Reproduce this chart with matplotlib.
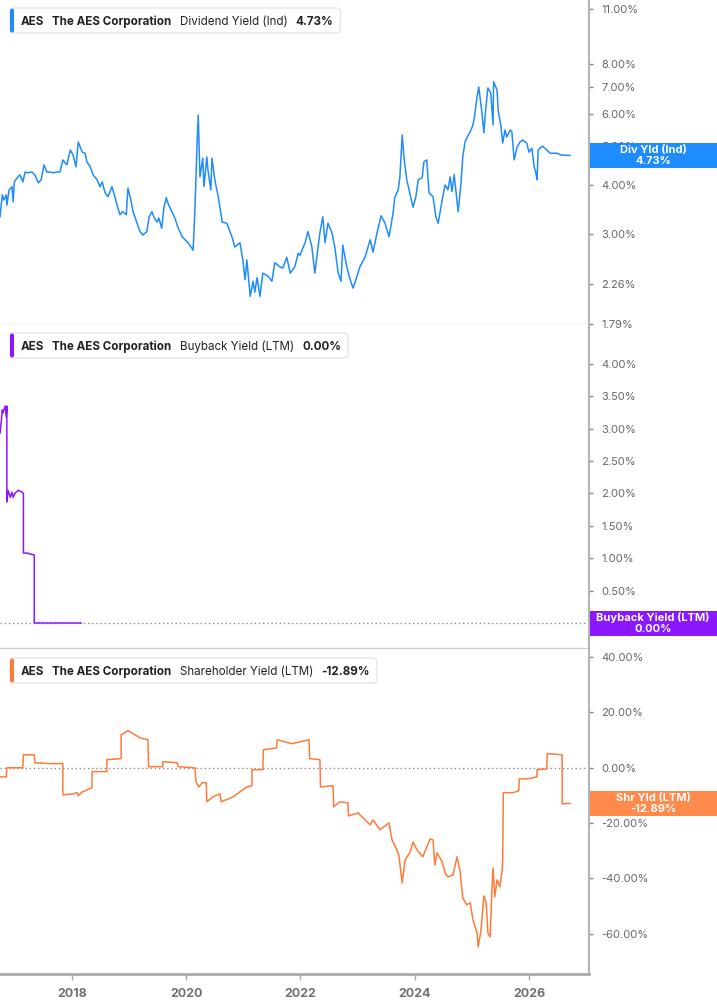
import numpy as np
import matplotlib
matplotlib.use("Agg")
import matplotlib.pyplot as plt
from matplotlib.patches import FancyBboxPatch, Rectangle
from matplotlib.transforms import Affine2D
from matplotlib.ticker import NullLocator

plt.rcParams['font.family'] = ['Inter', 'DejaVu Sans']

# Dividend Yield (Ind), % -- dates as decimal years
div_t = [2016.74, 2016.78, 2016.81, 2016.85, 2016.86, 2016.90, 2016.95, 2016.97, 2016.99, 2017.04,
         2017.09, 2017.14, 2017.18, 2017.23, 2017.30, 2017.35, 2017.41, 2017.46, 2017.51, 2017.56,
         2017.62, 2017.67, 2017.74, 2017.79, 2017.84, 2017.88, 2017.91, 2017.97, 2018.02, 2018.07,
         2018.11, 2018.18, 2018.23, 2018.26, 2018.32, 2018.37, 2018.44, 2018.49, 2018.53, 2018.58,
         2018.63, 2018.70, 2018.75, 2018.79, 2018.84, 2018.89, 2018.95, 2018.98, 2019.03, 2019.07,
         2019.14, 2019.19, 2019.24, 2019.31, 2019.35, 2019.40, 2019.44, 2019.49, 2019.52, 2019.57,
         2019.61, 2019.65, 2019.68, 2019.75, 2019.80, 2019.86, 2019.93, 2019.98, 2020.03, 2020.10,
         2020.12, 2020.15, 2020.19, 2020.21, 2020.24, 2020.29, 2020.31, 2020.36, 2020.38, 2020.43,
         2020.45, 2020.50, 2020.56, 2020.63, 2020.71, 2020.80, 2020.85, 2020.94, 2020.99, 2021.03,
         2021.06, 2021.12, 2021.17, 2021.20, 2021.24, 2021.29, 2021.34, 2021.43, 2021.50, 2021.55,
         2021.64, 2021.69, 2021.76, 2021.82, 2021.90, 2021.96, 2021.99, 2022.08, 2022.13, 2022.20,
         2022.25, 2022.34, 2022.39, 2022.43, 2022.48, 2022.55, 2022.60, 2022.66, 2022.71, 2022.74,
         2022.81, 2022.87, 2022.92, 2022.99, 2023.04, 2023.13, 2023.22, 2023.27, 2023.34, 2023.41,
         2023.48, 2023.55, 2023.62, 2023.65, 2023.71, 2023.74, 2023.78, 2023.81, 2023.86, 2023.90,
         2023.97, 2024.02, 2024.06, 2024.13, 2024.16, 2024.21, 2024.25, 2024.32, 2024.37, 2024.41,
         2024.48, 2024.53, 2024.58, 2024.62, 2024.65, 2024.69, 2024.74, 2024.76, 2024.81, 2024.84,
         2024.88, 2024.91, 2024.97, 2025.02, 2025.05, 2025.09, 2025.12, 2025.17, 2025.21, 2025.24,
         2025.28, 2025.33, 2025.37, 2025.38, 2025.44, 2025.46, 2025.51, 2025.54, 2025.58, 2025.61,
         2025.67, 2025.70, 2025.74, 2025.79, 2025.84, 2025.89, 2025.96, 2026.00, 2026.05, 2026.09,
         2026.12, 2026.14, 2026.16, 2026.19, 2026.24, 2026.31, 2026.37, 2026.49, 2026.57, 2026.72]
div_v = [3.32, 3.77, 3.66, 3.77, 3.55, 3.88, 3.95, 3.62, 4.06, 4.16,
         4.23, 4.06, 4.30, 4.28, 4.30, 4.23, 4.04, 4.11, 4.48, 4.30,
         4.30, 4.28, 4.30, 4.30, 4.61, 4.53, 4.48, 4.88, 4.74, 4.43,
         5.11, 4.82, 4.79, 4.56, 4.43, 4.23, 4.11, 3.95, 4.06, 3.81,
         3.73, 3.95, 3.73, 3.55, 3.36, 3.42, 3.36, 3.92, 3.66, 3.42,
         3.20, 3.05, 2.99, 3.05, 3.32, 3.42, 3.30, 3.22, 3.30, 3.11,
         3.51, 3.71, 3.59, 3.42, 3.30, 3.11, 2.96, 2.91, 2.86, 2.77,
         2.74, 3.39, 5.08, 5.97, 4.18, 4.66, 3.95, 4.69, 4.35, 3.88,
         4.66, 4.11, 3.73, 3.22, 3.20, 2.96, 2.79, 2.86, 2.59, 2.31,
         2.59, 2.10, 2.29, 2.15, 2.34, 2.10, 2.40, 2.36, 2.29, 2.55,
         2.49, 2.47, 2.63, 2.40, 2.49, 2.69, 2.66, 2.86, 3.05, 2.79,
         2.40, 3.03, 3.32, 2.86, 3.20, 3.03, 2.79, 2.40, 2.29, 2.82,
         2.49, 2.31, 2.20, 2.36, 2.49, 2.63, 2.91, 2.71, 3.03, 3.34,
         3.20, 2.96, 3.39, 3.71, 3.88, 4.18, 5.32, 4.69, 4.11, 3.88,
         3.51, 3.73, 4.11, 4.16, 4.56, 4.61, 3.81, 3.73, 3.32, 3.20,
         3.66, 3.99, 3.88, 4.18, 3.84, 4.23, 3.62, 3.42, 4.04, 4.69,
         5.11, 5.23, 5.42, 5.64, 5.97, 6.63, 7.02, 6.15, 5.39, 6.15,
         6.98, 6.78, 5.64, 7.23, 6.90, 6.15, 5.58, 5.08, 5.48, 5.26,
         5.48, 5.42, 4.61, 4.96, 5.11, 5.17, 5.08, 4.82, 4.93, 4.43,
         4.28, 4.11, 4.88, 4.93, 4.99, 4.88, 4.79, 4.79, 4.74, 4.73]

# Buyback Yield (LTM), %
bb_t = [2016.74, 2016.76, 2016.78, 2016.79, 2016.83, 2016.85, 2016.86, 2016.86, 2016.88, 2016.92,
        2016.95, 2016.97, 2017.00, 2017.06, 2017.13, 2017.15, 2017.15, 2017.21, 2017.30, 2017.34,
        2017.34, 2018.16]
bb_v = [2.93, 3.09, 3.29, 3.24, 3.35, 3.18, 3.35, 1.87, 2.05, 1.94,
        2.02, 1.94, 2.00, 2.05, 2.02, 2.00, 1.08, 1.08, 1.06, 1.05,
        0.00, 0.00]

# Shareholder Yield (LTM), %
shr_t = [2016.74, 2016.85, 2016.86, 2017.14, 2017.15, 2017.34, 2017.35, 2017.62, 2017.84, 2017.84,
         2018.02, 2018.09, 2018.11, 2018.18, 2018.35, 2018.35, 2018.61, 2018.61, 2018.86, 2018.86,
         2018.98, 2019.07, 2019.19, 2019.33, 2019.34, 2019.59, 2019.59, 2019.84, 2019.86, 2020.15,
         2020.17, 2020.22, 2020.28, 2020.35, 2020.36, 2020.47, 2020.59, 2020.61, 2020.82, 2021.06,
         2021.15, 2021.15, 2021.34, 2021.35, 2021.58, 2021.59, 2021.85, 2022.15, 2022.16, 2022.34,
         2022.35, 2022.57, 2022.58, 2022.69, 2022.83, 2022.84, 2023.01, 2023.04, 2023.22, 2023.27,
         2023.39, 2023.55, 2023.60, 2023.69, 2023.72, 2023.78, 2023.83, 2023.92, 2023.97, 2024.04,
         2024.14, 2024.21, 2024.27, 2024.32, 2024.35, 2024.39, 2024.48, 2024.53, 2024.58, 2024.67,
         2024.74, 2024.79, 2024.84, 2024.91, 2024.97, 2025.02, 2025.09, 2025.11, 2025.16, 2025.21,
         2025.25, 2025.28, 2025.32, 2025.35, 2025.37, 2025.40, 2025.44, 2025.49, 2025.53, 2025.54,
         2025.55, 2025.72, 2025.82, 2025.83, 2025.98, 2026.14, 2026.14, 2026.31, 2026.32, 2026.58,
         2026.58, 2026.72]
shr_v = [-3.3, -3.3, 0.0, 0.0, 4.7, 4.7, 1.8, 1.5, 1.5, -9.8,
         -9.4, -9.0, -10.1, -8.7, -7.2, -1.4, -1.4, 2.9, 3.3, 11.9,
         13.4, 12.3, 10.8, 10.1, 0.4, 0.4, 2.2, 1.8, 0.4, 0.0,
         -5.1, -6.9, -5.4, -5.4, -12.3, -10.5, -9.4, -12.3, -10.5, -6.9,
         -6.5, -0.7, -0.7, 6.5, 7.2, 10.1, 8.7, 10.1, 3.3, 2.9,
         -6.9, -6.5, -14.1, -12.3, -12.7, -17.4, -16.3, -17.0, -20.6, -18.8,
         -22.4, -19.9, -26.0, -29.7, -31.5, -41.6, -33.3, -30.4, -26.8, -29.7,
         -32.2, -28.6, -25.7, -26.0, -35.1, -30.7, -34.0, -38.0, -39.4, -38.7,
         -32.2, -36.9, -47.0, -49.5, -48.8, -55.0, -59.7, -64.7, -58.6, -46.3,
         -48.8, -59.7, -61.1, -44.1, -36.2, -46.7, -40.5, -43.0, -36.9, -32.6,
         -9.0, -9.0, -8.3, -4.0, -4.0, -3.3, -0.7, -0.4, 5.1, 4.7,
         -13.0, -12.89]

div_ticks = [1.79, 2.26, 3, 4, 5, 6, 7, 8, 11]
bb_ticks = [0, 0.5, 1, 1.5, 2, 2.5, 3, 3.5, 4]
shr_ticks = [-60, -40, -20, 0, 20, 40]
year_ticks = [2018, 2020, 2022, 2024, 2026]

BLUE = '#1e8cff'
PURPLE = '#8a17ff'
ORANGE = '#ff7b3a'

W, H = 717, 1005
R = 589
fig = plt.figure(figsize=(W / 100, H / 100), dpi=100)
# pixel coords, y pointing down like the image
pix = Affine2D().scale(1 / W, -1 / H).translate(0, 1) + fig.transFigure


def add_ax(top, bottom):
    return fig.add_axes([0, 1 - bottom / H, R / W, (bottom - top) / H])


ax1 = add_ax(0, 324)
ax2 = add_ax(324, 648)
ax3 = add_ax(649, 974)

for ax in (ax1, ax2, ax3):
    ax.set_xlim(2016.74, 2027.05)
    ax.spines['left'].set_visible(False)
    ax.spines['top'].set_visible(False)
    ax.spines['right'].set_color('#b4b4b4')
    ax.spines['right'].set_linewidth(1.5)
    ax.spines['bottom'].set_color('#cccccc')
    ax.spines['bottom'].set_linewidth(1)
    ax.yaxis.tick_right()
    ax.tick_params(axis='y', direction='out', length=3, width=1, color='#888888',
                   labelsize=8, labelcolor='#666666', pad=6)
    ax.tick_params(axis='x', bottom=False, labelbottom=False)

ax1.plot(div_t, div_v, color=BLUE, lw=1.1)
ax1.set_yscale('log')
ax1.set_ylim(1.79, 11.59)
ax1.yaxis.set_minor_locator(NullLocator())
ax1.set_yticks(div_ticks)
ax1.set_yticklabels([f"{t:.2f}%" for t in div_ticks])

ax2.plot(bb_t, bb_v, color=PURPLE, lw=1.1)
ax2.axhline(0, color='#8c8c8c', lw=1, ls=(0, (1, 2)), zorder=0)
ax2.set_ylim(-0.386, 4.617)
ax2.set_yticks(bb_ticks)
ax2.set_yticklabels([f"{t:.2f}%" for t in bb_ticks])

ax3.plot(shr_t, shr_v, color=ORANGE, lw=1.1)
ax3.axhline(0, color='#8c8c8c', lw=1, ls=(0, (1, 2)), zorder=0)
ax3.set_ylim(-74.5, 42.9)
ax3.set_yticks(shr_ticks)
ax3.set_yticklabels([f"{t:.2f}%" for t in shr_ticks])
ax3.spines['bottom'].set_color('#aaaaaa')
ax3.spines['bottom'].set_linewidth(2)
ax3.set_xticks(year_ticks)
ax3.set_xticklabels([str(y) for y in year_ticks])
ax3.tick_params(axis='x', bottom=True, labelbottom=True, length=4, width=1, color='#aaaaaa',
                labelsize=9, labelcolor='#707070', pad=6)
for lab in ax3.get_xticklabels():
    lab.set_fontweight('bold')

renderer = fig.canvas.get_renderer()

# size the legend font so "The AES Corporation" is as wide as in the reference (~119 px)
probe = fig.text(0, 0, "The AES Corporation", fontsize=10, fontweight='bold')
LEG_FS = 10 * 119 / probe.get_window_extent(renderer).width
probe.remove()


def legend_box(top, color, name, value):
    base = top + 17.3
    parts = [("AES", "bold"), ("The AES Corporation", "bold"), (name, "normal"), (value, "bold")]
    x = 20.5
    for s, w in parts:
        t = fig.text(x, base, s, transform=pix, fontsize=LEG_FS, fontweight=w, color='#222222',
                     ha='left', va='baseline', zorder=11)
        x += t.get_window_extent(renderer).width + 8.3
    x_end = x - 8.3 + 7
    fig.add_artist(FancyBboxPatch((10, top), x_end - 10, 25, boxstyle="round,pad=0,rounding_size=4",
                                  transform=pix, fc='white', ec='#e6e6e6', lw=1, zorder=10))
    fig.add_artist(FancyBboxPatch((10, top + 0.5), 4, 24, boxstyle="round,pad=0,rounding_size=2",
                                  transform=pix, fc=color, ec='none', zorder=10.5))


def value_tag(ax, val, color, line1, line2):
    yc = H - ax.transData.transform((2020, val))[1] * 100 / fig.dpi
    fig.add_artist(Rectangle((R + 0.5, yc - 12.5), W - R, 25, transform=pix, fc=color, ec='none', zorder=10))
    for s, dy in ((line1, -5.5), (line2, 5.5)):
        fig.text((R + W) / 2, yc + dy, s, transform=pix, ha='center', va='center', color='white',
                 fontsize=8, fontweight='bold', zorder=11)


legend_box(8, BLUE, "Dividend Yield (Ind)", "4.73%")
legend_box(333, PURPLE, "Buyback Yield (LTM)", "0.00%")
legend_box(658, ORANGE, "Shareholder Yield (LTM)", "-12.89%")

value_tag(ax1, div_v[-1], BLUE, "Div Yld (Ind)", "4.73%")
value_tag(ax2, bb_v[-1], PURPLE, "Buyback Yield (LTM)", "0.00%")
value_tag(ax3, shr_v[-1], '#ff8a4c', "Shr Yld (LTM)", "-12.89%")

fig.savefig("out.png", dpi=100)
